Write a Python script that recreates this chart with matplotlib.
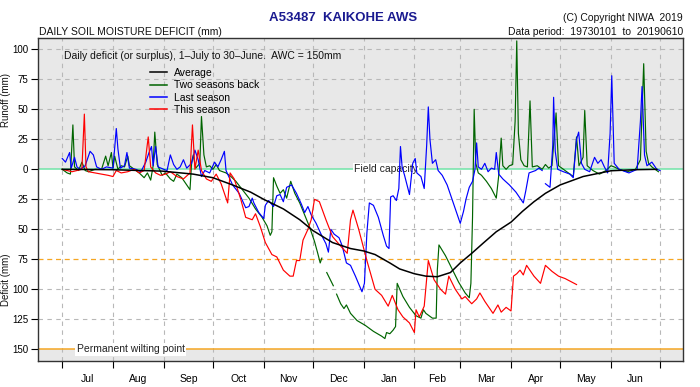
import numpy as np
import matplotlib.pyplot as plt
from matplotlib.lines import Line2D

plt.rcParams['font.family'] = ['Liberation Sans', 'DejaVu Sans']

month_names = ["Jul", "Aug", "Sep", "Oct", "Nov", "Dec", "Jan", "Feb", "Mar", "Apr", "May", "Jun"]
month_starts = [0, 31, 62, 92, 123, 153, 184, 215, 243, 274, 304, 335, 365]

# average deficit (day of season, mm; negative = deficit)
avg_day = [0, 30, 61, 80, 92, 104, 115, 123, 135, 145, 153, 165, 176, 184, 191, 200, 206, 215,
           222, 229, 237, 243, 250, 257, 265, 274, 281, 288, 295, 304, 318, 335, 350, 363]
avg_val = [0, -0.3, -1.5, -4, -7, -13, -19, -25, -33, -42, -51, -61, -66, -68, -71, -78, -83, -87,
           -89, -89.5, -86, -78, -70, -61.5, -52, -44, -35, -27, -20, -13, -6, -1.2, -0.3, 0]

# two seasons back
green_day = [0, 3, 5, 6.5, 7.5, 10, 12, 14, 16, 20, 24, 26.5, 28, 30, 31, 32, 34, 36, 38, 40, 41,
             44, 47, 50, 52, 54, 55.5, 56.5, 58, 61, 63, 66, 68, 70, 73, 76, 78, 79, 80, 81.5, 84,
             85, 86.5, 88, 90, 92, 94, 96, 100, 103, 106, 110, 114, 118, 122, 125, 127, 128, 128.5,
             129, 131, 133, 135, 137, 139.5, 142, 145, 148, 151, 154, 156, 157.5, 158.5, 160,
             161.5, 165.5, 166.5, 167.5, 170, 172, 173.5, 176, 180, 185, 190, 195, 197, 198, 200,
             202, 203.5, 204.5, 208, 212, 216, 219, 220.5, 222, 226, 228.3, 229, 230, 234, 238,
             242, 246, 248.5, 249.5, 250.5, 251.5, 252.5, 254, 256, 259, 262, 265, 266.5, 268,
             269, 271, 273, 275, 276.5, 277.5, 278.5, 280, 282, 284, 285.6, 287, 290, 293, 295,
             297, 299, 301.5, 303, 306, 310, 312, 314, 315.5, 318, 319, 320.5, 324, 328, 332,
             335, 337, 340, 345, 350, 353, 355, 356.5, 358, 360, 362, 364]
green_val = [0, -3, -4, 37, 2, -1, 6, -1, -2, 0, 0, 11, 3, 14, 1, 11, 0, 3, 2, 11, 3,
             0, -3, -7, -3, -9, 3, 31, 4, -5, -3, -8, -10, -4, -7, -13, -17, 6, 12, 1, 5,
             44, 12, 2, 3, 0, 4, -1, -3, -6, -10, -17, -24, -33, -40, -47, -55, -52, -30,
             -7, -14, -20, -17, -24, -10, -20, -28, -38, -48, -60, -70, -78, -74, np.nan,
             -86, -97, np.nan, -104, -112, -116, -113, -120, -126, -130, -135, -139, -141, -136, -137,
             -134, -131, -95, -106, -115, -122, -124, -117, -120, -124, -124, -84, -63, -72, -83,
             -94, -103, -107, -95, -40, 50, 5, -3, -5, -10, -16, -24, -5, 26,
             3, 0, 3, 4, 40, 107, 30, 8, 3, 2, 57, 2, 3, 0, 4,
             1, 3, 47, 3, 0, -4, -6, 27, 3, 10, 49, 3, -1, -4, -1,
             3, 2, 0, -2, 0, 8, 88, 15, 5, 2, 0, -2]

# last season
blue_day = [0, 2, 4.5, 5.5, 7.5, 9, 11, 14, 17, 19, 21, 24, 27, 31, 33, 34, 35.5, 38, 39.5, 41,
            45, 48, 51, 53, 54.5, 55.5, 57, 58.5, 62, 64, 66, 68, 70, 72, 74, 76, 79, 81, 83, 85,
            87, 90, 93, 95, 97, 99, 100, 104, 108, 112, 114, 116, 117, 120, 123, 124, 126, 129,
            131, 133, 135, 137, 140, 143, 146, 148, 150, 152, 155, 158, 161, 162.5, 164, 166, 169,
            171, 173.5, 176, 179, 183, 184.5, 186, 187.5, 190, 193, 196, 198, 199.5, 200.5, 202,
            204, 205.5, 206.5, 207.5, 209, 212, 214, 215.5, 216.5, 219, 221, 222.5, 223.5, 224.5,
            226, 228, 229.5, 232, 235, 238, 241, 243, 245, 246.5, 248.5, 250.5, 252, 253, 254,
            256, 258, 260, 262, 264, 265, 266.5, 269, 273, 277, 281.5, 283, 285, 287, 289, 291,
            293, 294, 295, 297.8, 299.5, 300, 301, 302.5, 306, 310, 312, 314, 315.3, 317, 319,
            322, 325, 327, 329, 331, 333, 334.5, 335.5, 337, 340, 346, 351, 353, 354, 355.5, 357,
            360, 363, 365]
blue_val = [9, 6, 14, 1, 10, 2, 0, 3, 15, 12, 2, 0, 2, 1, 34, 17, 1, 3, 14, 1,
            0, -2, 6, 14, 19, 3, 19, 2, 0, -1, 12, 4, 0, 2, 8, 1, 5, 16, 8, -6,
            -1, -3, 6, 2, 8, 15, -1, -13, -20, -32, -31, -24, -28, -36, -41, -30, -26, -31,
            -22, -21, -27, -15, -13, -20, -29, -36, -31, -38, -45, -54, -62, -69, -50, -54, -57,
            -64, -78, -80, -89, -102, -95, -53, -28, -30, -40, -55, -64, -66, -23, -22,
            -26, -16, 19, 2, -5, -21, 5, 9, -3, -6, -16, 20, 52, 25,
            5, 8, -1, -5, -13, -25, -37, -45, -35, -25, -15, -10, 0, 22, 2,
            0, 5, -2, 1, 0, 14, -4, -8, -13, -19, -28, -18, -3, -2, -1, 1,
            -1, np.nan, -12, -15, 20, 60, 15, 0, -2, -4, -7, 25, 31, 5, 0,
            -2, 10, 5, 8, 2, -3, 30, 78, 5, 0, -3, 0, 40, 69, 12, 3,
            6, 0, -1]

# this season
red_day = [0, 3, 6, 9, 12, 13.5, 14.5, 16, 20, 24, 28, 31, 33, 36, 40, 44, 47, 50, 52.5, 54, 57,
           60, 63, 66, 70, 74, 78, 79.5, 81, 83, 85, 88, 91, 94, 97, 101, 102.5, 105, 109, 112,
           116, 118, 121, 124, 128, 131, 135, 139, 141, 143, 145, 147, 150, 152, 154, 157, 161,
           165, 170, 174, 176, 177.5, 181, 186, 191, 195, 199, 201.5, 205, 208, 212, 215, 216,
           218, 221, 223.5, 227, 231, 234, 236, 240, 244, 246, 250, 253, 255, 258, 263, 266,
           268, 271, 274, 275.5, 277.5, 279.5, 281.5, 283.5, 288, 292, 295, 299, 303, 307, 314]
red_val = [0, -1, -2, -1, 0, 46, 2, -2, -3, -4, -5, -6, -1, -3, -2, 0, -3, -1, 27, 2, -3,
           -5, -4, -2, -6, -8, -3, 37, 0, 16, -1, -8, -10, -4, -12, -28, -3, -8, -25, -40,
           -42, -37, -48, -61, -71, -73, -84, -89, -89, -76, -76, -59, -50, -42, -25, -27, -42,
           -56, -64, -70, -42, -34, -50, -76, -100, -105, -114, -105, -117, -123, -128, -136, -117,
           -123, -114, -76, -92, -100, -104, -89, -100, -108, -106, -112, -108, -103, -110, -120, -113,
           -119, -115, -118, -89, -87, -84, -88, -80, -89, -95, -80, -85, -89, -91, -96]

ytick_vals = [100, 75, 50, 25, 0, -25, -50, -75, -100, -125, -150]

fig = plt.figure(figsize=(7, 3.87), dpi=100)
ax = fig.add_axes([38 / 700, 1 - 361 / 387, 645 / 700, 322.5 / 387])
ax.set_xlim(-14.8, 379)
ax.set_ylim(-159.7, 109)

ax.axhspan(0, 120, color="#e8e8e8", zorder=0, lw=0)
ax.axhspan(-170, -150, color="#e8e8e8", zorder=0, lw=0)

for v in ytick_vals:
    if v not in (0, -75, -150):
        ax.axhline(v, color="#b8b8b8", lw=0.8, ls=(0, (4, 4)), zorder=1)
for d in month_starts:
    ax.axvline(d, color="#b8b8b8", lw=0.8, ls=(0, (4, 4)), zorder=1)

ax.axhline(0, color="#70e4a8", lw=1.1, zorder=2)
ax.axhline(-75, color="#f5a623", lw=0.9, ls=(0, (4, 3)), zorder=2)
ax.axhline(-150, color="#f5a623", lw=1.1, zorder=2)
ax.text(197.6, 0, "Field capacity", ha="center", va="center", fontsize=7.5, color="#222222",
        bbox=dict(facecolor="white", edgecolor="none", pad=1), zorder=3)
ax.text(41.7, -150, "Permanent wilting point", ha="center", va="center", fontsize=7.5,
        color="#222222", bbox=dict(facecolor="white", edgecolor="none", pad=1), zorder=3)
ax.text(1, 94.4, "Daily deficit (or surplus), 1\u2013July to 30\u2013June.  AWC = 150mm",
        ha="left", va="center", fontsize=7.5, color="#111111", zorder=3)

ax.plot(green_day, green_val, color="#006400", lw=0.85, zorder=4)
ax.plot(blue_day, blue_val, color="#0000ff", lw=0.85, zorder=5)
ax.plot(red_day, red_val, color="#ff0000", lw=0.85, zorder=6)
ax.plot(avg_day, avg_val, color="black", lw=1.1, zorder=7)

handles = [Line2D([], [], color="black", lw=1.1), Line2D([], [], color="#006400", lw=1.1),
           Line2D([], [], color="#0000ff", lw=1.1), Line2D([], [], color="#ff0000", lw=1.1)]
ax.legend(handles, ["Average", "Two seasons back", "Last season", "This season"],
          loc="upper left", bbox_to_anchor=(150 / 700, 1 - 68 / 387),
          bbox_transform=fig.transFigure, frameon=False, fontsize=7.5, borderpad=0,
          borderaxespad=0, handlelength=1.6, handletextpad=0.7, labelspacing=0.22)

ax.set_yticks(ytick_vals)
ax.set_yticklabels([str(abs(v)) for v in ytick_vals], fontsize=7)
ax.set_xticks(month_starts)
ax.set_xticklabels([])
mids = [(a + b) / 2 for a, b in zip(month_starts[:-1], month_starts[1:])]
ax.set_xticks(mids, minor=True)
ax.set_xticklabels(month_names, minor=True, fontsize=7.5)
ax.tick_params(axis="x", which="minor", length=0, pad=9)
ax.tick_params(axis="both", which="major", length=5, width=0.8, direction="out")
ax.tick_params(axis="y", pad=2)
for s in ax.spines.values():
    s.set_linewidth(1.0)
    s.set_color("#333333")

fig.text(343 / 700, 1 - 18 / 387, "A53487  KAIKOHE AWS", ha="center", va="center",
         fontsize=9.5, fontweight="bold", color="#1a1a90")
fig.text(39 / 700, 1 - 35 / 387, "DAILY SOIL MOISTURE DEFICIT (mm)", ha="left", va="baseline",
         fontsize=7.5, color="#111111")
fig.text(683 / 700, 1 - 18 / 387, "(C) Copyright NIWA  2019", ha="right", va="center",
         fontsize=7.5, color="#111111")
fig.text(683 / 700, 1 - 32 / 387, "Data period:  19730101  to  20190610", ha="right",
         va="center", fontsize=7.5, color="#111111")
fig.text(6 / 700, 1 - 100 / 387, "Runoff (mm)", rotation=90, ha="center", va="center",
         fontsize=7, color="#111111")
fig.text(6 / 700, 1 - 280 / 387, "Deficit (mm)", rotation=90, ha="center", va="center",
         fontsize=7, color="#111111")

fig.savefig("out.png", dpi=100)
